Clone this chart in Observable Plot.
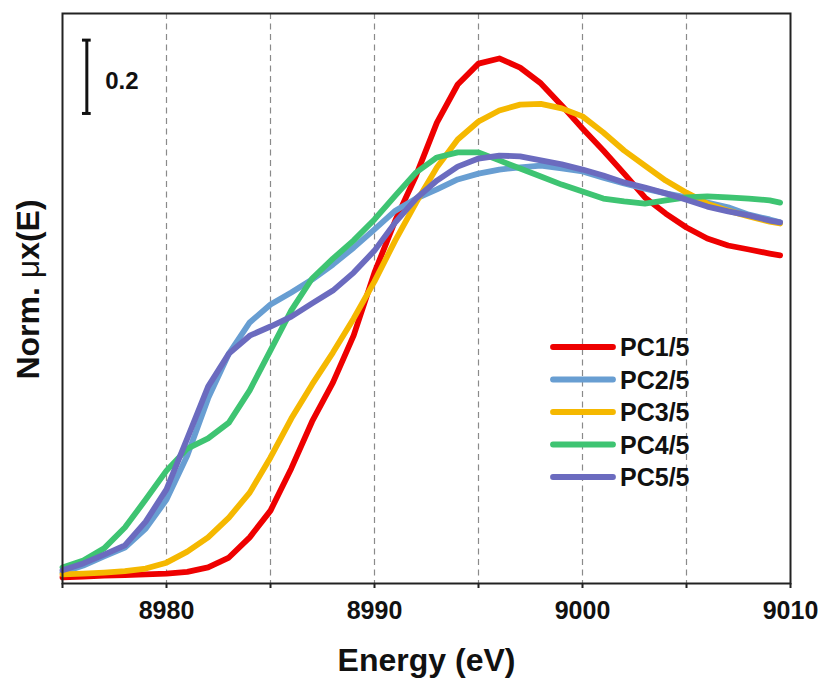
<!DOCTYPE html>
<html><head><meta charset="utf-8">
<script src="https://cdn.jsdelivr.net/npm/d3@7"></script>
<script src="https://cdn.jsdelivr.net/npm/@observablehq/plot@0.6"></script>
<style>
body{margin:0;background:#fff;}
#chart{position:relative;width:824px;height:680px;}
#chart svg{font-family:"Liberation Sans",Arial,sans-serif;font-weight:bold;}
</style></head><body><div id="chart"></div>
<script>
// Energy grid (eV)
const energy = [8975,8976,8977,8978,8979,8980,8981,8982,8983,8984,8985,8986,8987,8988,8989,8990,8991,8992,8993,8994,8995,8996,8997,8998,8999,9000,9001,9002,9003,9004,9005,9006,9007,9008,9009,9009.5];
// Normalized absorption for each principal component
const pc1 = [-0.005,-0.003,0,0.001,0.003,0.005,0.010,0.022,0.049,0.104,0.177,0.292,0.420,0.526,0.655,0.826,0.968,1.091,1.235,1.339,1.396,1.410,1.385,1.342,1.282,1.219,1.159,1.096,1.031,0.987,0.949,0.919,0.900,0.889,0.878,0.873];
const pc2 = [0.008,0.027,0.052,0.076,0.128,0.207,0.327,0.483,0.605,0.690,0.739,0.772,0.807,0.848,0.894,0.944,0.995,1.028,1.053,1.080,1.096,1.107,1.113,1.118,1.110,1.102,1.085,1.069,1.055,1.042,1.031,1.017,1.004,0.984,0.971,0.963];
const pc3 = [0.003,0.005,0.008,0.012,0.019,0.035,0.065,0.104,0.158,0.226,0.322,0.428,0.521,0.608,0.701,0.802,0.914,1.017,1.113,1.189,1.238,1.268,1.284,1.286,1.274,1.252,1.208,1.159,1.118,1.077,1.044,1.014,0.995,0.979,0.965,0.960];
const pc4 = [0.022,0.041,0.074,0.131,0.207,0.286,0.346,0.374,0.417,0.505,0.614,0.723,0.810,0.864,0.914,0.971,1.036,1.099,1.140,1.154,1.154,1.132,1.110,1.088,1.066,1.047,1.028,1.020,1.014,1.023,1.031,1.034,1.031,1.028,1.023,1.017];
const pc5 = [0.014,0.033,0.057,0.082,0.147,0.235,0.374,0.515,0.605,0.654,0.679,0.706,0.742,0.777,0.826,0.886,0.963,1.028,1.077,1.115,1.137,1.145,1.143,1.132,1.121,1.107,1.091,1.072,1.058,1.042,1.025,1.006,0.993,0.982,0.968,0.963];
const seriesNames = ["PC1/5","PC2/5","PC3/5","PC4/5","PC5/5"];
const seriesColors = ["#ee0000","#689ed2","#f5b800","#3ec472","#6b6bbf"];
const xTicks = [8975,8980,8985,8990,8995,9000,9005,9010];
const xTickLabels = [8980,8990,9000,9010];
const gridLines = [8980,8985,8990,8995,9000,9005];
const scaleBarValue = [0.2];

const seriesValues = [pc1,pc2,pc3,pc4,pc5];
const rows = [];
seriesValues.forEach((vals,i)=>vals.forEach((v,j)=>rows.push({E:energy[j],mu:v,s:seriesNames[i]})));

// scale-bar annotation placement (data units)
const barE = 8976.17, barBase = 1.26, barCapHalf = 0.21;
const bar = scaleBarValue.map(v=>({E:barE,y1:barBase,y2:barBase+v,label:String(v)}));

const W = 824, H = 680;
const plot = Plot.plot({
  width: W, height: H,
  marginTop: 13, marginBottom: 97, marginLeft: 62, marginRight: 34,
  x: {domain:[8975,9010], axis:null},
  y: {domain:[-0.0218,1.5326], axis:null},
  color: {domain: seriesNames, range: seriesColors},
  marks: [
    Plot.ruleX(gridLines, {stroke:"#8a8a8a", strokeWidth:1.2, strokeDasharray:"6,4.5"}),
    Plot.line(rows, {x:"E", y:"mu", z:"s", stroke:"s", strokeWidth:5.8, strokeLinejoin:"round", strokeLinecap:"round"}),
    Plot.ruleX(bar, {x:"E", y1:"y1", y2:"y2", stroke:"#111", strokeWidth:3}),
    Plot.ruleY(bar, {y:"y1", x1:d=>d.E-barCapHalf, x2:d=>d.E+barCapHalf, stroke:"#111", strokeWidth:3}),
    Plot.ruleY(bar, {y:"y2", x1:d=>d.E-barCapHalf, x2:d=>d.E+barCapHalf, stroke:"#111", strokeWidth:3}),
    Plot.text(bar, {x:d=>d.E+0.88, y:d=>(d.y1+d.y2)/2 - 0.013, text:"label", textAnchor:"start", lineAnchor:"middle", fontSize:24, fontWeight:"bold", fill:"#111"}),
    Plot.frame({stroke:"#222", strokeWidth:2}),
    Plot.axisX(xTicks, {tickSize:5, strokeWidth:2, stroke:"#222", tickPadding:13, fontSize:25, fontWeight:"bold", fill:"#111",
      tickFormat: d => xTickLabels.includes(d) ? String(d) : "", label:null}),
    Plot.text(["Energy (eV)"], {frameAnchor:"bottom", dy:77, lineAnchor:"middle", textAnchor:"middle", fontSize:32, fontWeight:"bold", fill:"#111"}),
    Plot.text(["Norm. μx(E)"], {frameAnchor:"left", dx:-34, dy:-9, rotate:-90, lineAnchor:"middle", textAnchor:"middle", fontSize:32, fontWeight:"bold", fill:"#111"})
  ]
});
document.getElementById("chart").appendChild(plot);

// make μ lighter like the reference
const svg = d3.select(plot);
svg.selectAll("text").each(function(){
  if (this.textContent === "Norm. μx(E)") {
    const t = d3.select(this); t.text(null);
    t.append("tspan").text("Norm. ");
    t.append("tspan").attr("style","font-weight:normal").text("μ");
    t.append("tspan").text("x(E)");
  }
});

// legend inside the plot area
const lg = svg.append("g").attr("class","legend").attr("text-anchor","start");
seriesNames.forEach((name,i)=>{
  const y = 347 + i*32.5;
  lg.append("line").attr("x1",553).attr("x2",613).attr("y1",y).attr("y2",y)
    .attr("stroke",seriesColors[i]).attr("stroke-width",5.8).attr("stroke-linecap","round");
  lg.append("text").attr("x",620).attr("y",y).attr("dy","0.36em").attr("text-anchor","start")
    .attr("font-size",25).attr("font-weight","bold").attr("fill","#111").text(name);
});
</script></body></html>
